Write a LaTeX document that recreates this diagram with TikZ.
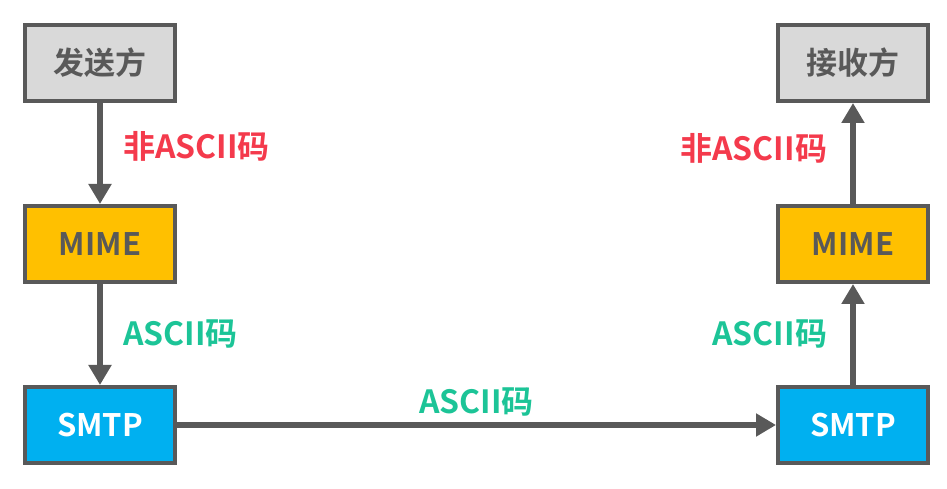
\documentclass[tikz,border=0pt]{standalone}
\usepackage{fontspec}
\setmainfont{Noto Sans CJK SC}[BoldFont={Noto Sans CJK SC Bold}]
\usetikzlibrary{arrows.meta}
\definecolor{edgegray}{HTML}{595959}
\definecolor{partyfill}{HTML}{D9D9D9}
\definecolor{mimefill}{HTML}{FFC000}
\definecolor{smtpfill}{HTML}{00B0F0}
\definecolor{nonascii}{HTML}{F43A4C}
\definecolor{ascii}{HTML}{1CC497}
\tikzset{
  box/.style={draw=edgegray, line width=4pt, minimum width=150pt, minimum height=76pt,
    inner sep=0pt, text=edgegray, font=\bfseries\fontsize{31}{31}\selectfont},
  flow/.style={draw=edgegray, line width=6pt, -{Triangle[length=20pt,width=22pt]}},
  tag/.style={inner sep=0pt, font=\bfseries\fontsize{32}{32}\selectfont}
}
\begin{document}
\begin{tikzpicture}[x=1pt, y=1pt, node distance=181pt]
\useasboundingbox (0,0) rectangle (947,489);
\node(Send) [box, fill=partyfill] at (100,426) {发送方};
\node(MimeA) [box, fill=mimefill, below of=Send] {MIME};
\node(SmtpA) [box, fill=smtpfill, text=white, below of=MimeA] {SMTP};
\node(SmtpB) [box, fill=smtpfill, text=white, right of=SmtpA, node distance=753pt] {SMTP};
\node(MimeB) [box, fill=mimefill, above of=SmtpB] {MIME};
\node(Recv) [box, fill=partyfill, above of=MimeB] {接收方};
\draw[flow](Send) to node [tag, right=20pt, pos=0.43, text=nonascii] {非ASCII码}(MimeA);
\draw[flow](MimeA) to node [tag, right=20pt, text=ascii] {ASCII码}(SmtpA);
\draw[flow](SmtpA) to node [tag, above=6pt, text=ascii] {ASCII码}(SmtpB);
\draw[flow](SmtpB) to node [tag, left=23pt, text=ascii] {ASCII码}(MimeB);
\draw[flow](MimeB) to node [tag, left=23pt, pos=0.55, text=nonascii] {非ASCII码}(Recv);
\end{tikzpicture}
\end{document}
